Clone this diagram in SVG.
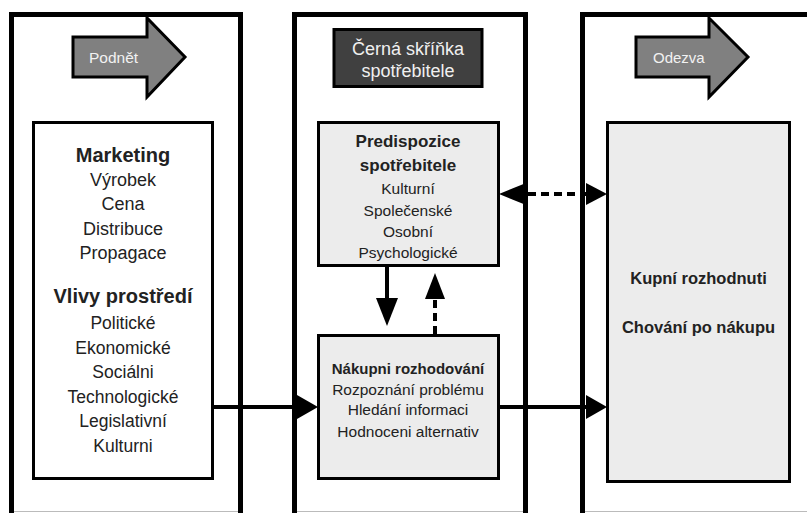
<svg xmlns="http://www.w3.org/2000/svg" width="807" height="513" viewBox="0 0 807 513">
  <style>
    .panel { fill: #ffffff; stroke: #000; stroke-width: 5; }
    .box { stroke: #000; stroke-width: 3; }
    .grey { fill: #ececec; }
    .bigarrow { fill: #808080; stroke: #000; stroke-width: 3; stroke-linejoin: miter; }
    text { font-family: "Liberation Sans", Arial, sans-serif; fill: #222; text-anchor: middle; }
    .b { font-weight: bold; }
    .light { fill: #f2f2f2; text-anchor: start; }
    .line { stroke: #000; stroke-width: 4; fill: none; }
    .dash { stroke: #000; stroke-width: 4; fill: none; stroke-dasharray: 8 5; }
    .head { fill: #000; }
  </style>
  <rect width="807" height="513" fill="#ffffff"/>

  <g id="panel-podnet">
    <rect class="panel" x="11.5" y="14.5" width="229" height="520"/>
    <line x1="14" y1="511.5" x2="238" y2="511.5" stroke="#bbb" stroke-width="1"/>
  </g>
  <g id="panel-cerna">
    <rect class="panel" x="294.5" y="14.5" width="231" height="520"/>
    <line x1="297" y1="511.5" x2="523" y2="511.5" stroke="#bbb" stroke-width="1"/>
  </g>
  <g id="panel-odezva">
    <rect class="panel" x="582.5" y="14.5" width="300" height="520"/>
    <line x1="585" y1="511.5" x2="807" y2="511.5" stroke="#bbb" stroke-width="1"/>
  </g>

  <g id="arrow-podnet">
    <polygon class="bigarrow" points="73,37 147,37 147,18 185,57 147,97 147,77 73,77"/>
    <text class="light" x="89" y="63" font-size="15.5">Podnět</text>
  </g>
  <g id="arrow-odezva">
    <polygon class="bigarrow" points="636,37 709,37 709,18 748,57 709,97 709,77 636,77"/>
    <text class="light" x="653" y="63" font-size="15">Odezva</text>
  </g>

  <g id="cerna-skrinka">
    <rect class="box" x="334" y="29.5" width="148" height="57" fill="#404040"/>
    <text x="408" y="55" font-size="18" style="fill:#f0f0f0">Černá skříňka</text>
    <text x="408" y="77" font-size="18" style="fill:#f0f0f0">spotřebitele</text>
  </g>

  <g id="marketing">
    <rect class="box" x="33.5" y="122.5" width="179" height="356" fill="#ffffff" stroke-width="2.5"/>
    <text class="b" x="123" y="162" font-size="20">Marketing</text>
    <text x="123" y="186" font-size="18">Výrobek</text>
    <text x="123" y="210" font-size="18">Cena</text>
    <text x="123" y="235" font-size="18">Distribuce</text>
    <text x="123" y="259" font-size="18">Propagace</text>
    <text class="b" x="123" y="303" font-size="20">Vlivy prostředí</text>
    <text x="123" y="329" font-size="17.5">Politické</text>
    <text x="123" y="354" font-size="17.5">Ekonomické</text>
    <text x="123" y="378" font-size="17.5">Sociálni</text>
    <text x="123" y="403" font-size="17.5">Technologické</text>
    <text x="123" y="427" font-size="17.5">Legislativní</text>
    <text x="123" y="452" font-size="17.5">Kulturni</text>
  </g>

  <g id="predispozice">
    <rect class="box grey" x="318.5" y="122.5" width="180" height="143"/>
    <text class="b" x="408" y="147" font-size="17">Predispozice</text>
    <text class="b" x="408" y="171" font-size="17">spotřebitele</text>
    <text x="408" y="194" font-size="15.5">Kulturní</text>
    <text x="408" y="216" font-size="15.5">Společenské</text>
    <text x="408" y="237" font-size="15.5">Osobní</text>
    <text x="408" y="258" font-size="15.5">Psychologické</text>
  </g>

  <g id="nakupni">
    <rect class="box grey" x="318.5" y="335.5" width="180" height="143"/>
    <text class="b" x="408" y="374" font-size="15">Nákupni rozhodování</text>
    <text x="408" y="395" font-size="15.5">Rozpoznání problému</text>
    <text x="408" y="415" font-size="15.5">Hledání informaci</text>
    <text x="408" y="437" font-size="15.5">Hodnoceni alternativ</text>
  </g>

  <g id="kupni">
    <rect class="box grey" x="607.5" y="122.5" width="182" height="359"/>
    <text class="b" x="698.5" y="284" font-size="16.5">Kupní rozhodnuti</text>
    <text class="b" x="698.5" y="333" font-size="16.5">Chování po nákupu</text>
  </g>

  <g id="connectors">
    <!-- marketing -> nakupni -->
    <line class="line" x1="213" y1="407" x2="300" y2="407"/>
    <polygon class="head" points="297,395 318,407 297,419"/>
    <!-- nakupni -> kupni -->
    <line class="line" x1="499" y1="407" x2="589" y2="407"/>
    <polygon class="head" points="586,395 607,407 586,419"/>
    <!-- predispozice -> nakupni (solid down) -->
    <line class="line" x1="387" y1="266" x2="387" y2="300"/>
    <polygon class="head" points="376,298 398,298 387,326"/>
    <!-- nakupni -> predispozice (dashed up) -->
    <line class="dash" x1="435" y1="334" x2="435" y2="296"/>
    <polygon class="head" points="425,299 445,299 435,273"/>
    <!-- predispozice <-> kupni (dashed bidirectional) -->
    <line class="dash" x1="528" y1="194" x2="587" y2="194"/>
    <polygon class="head" points="526,183 499,194 526,205"/>
    <polygon class="head" points="586,183 607,194 586,205"/>
  </g>
</svg>
